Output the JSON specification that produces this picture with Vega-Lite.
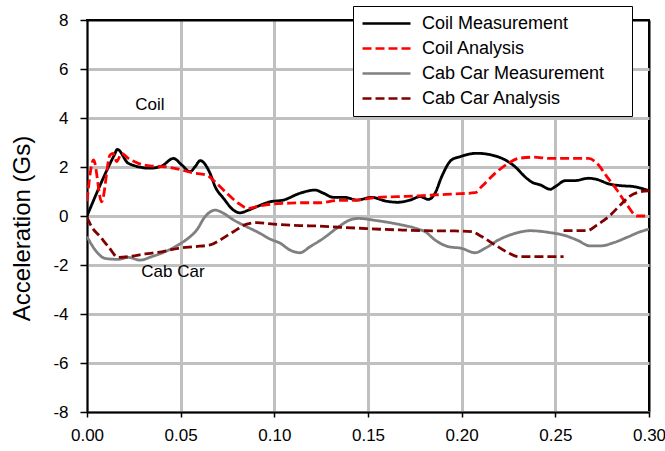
{
  "$schema": "https://vega.github.io/schema/vega-lite/v6.json",
  "width": 562,
  "height": 392,
  "autosize": {"type": "none"},
  "padding": {"left": 87, "top": 20, "right": 16, "bottom": 39},
  "background": "white",
  "config": {
    "font": "Liberation Sans",
    "view": {"stroke": "black", "strokeWidth": 2},
    "axis": {
      "labelFont": "Liberation Sans",
      "titleFont": "Liberation Sans",
      "labelColor": "black",
      "titleColor": "black",
      "domainColor": "black",
      "domainWidth": 2,
      "tickColor": "black",
      "tickWidth": 1.5,
      "labelFontSize": 17,
      "titleFontWeight": "normal"
    },
    "legend": {"labelFont": "Liberation Sans"}
  },
  "datasets": {
    "curves": [
      {"s": "Coil Measurement", "g": 1, "t": 0.0, "v": 0.0},
      {"s": "Coil Measurement", "g": 1, "t": 0.0146, "v": 2.49},
      {"s": "Coil Measurement", "g": 1, "t": 0.0162, "v": 2.72},
      {"s": "Coil Measurement", "g": 1, "t": 0.0221, "v": 2.15},
      {"s": "Coil Measurement", "g": 1, "t": 0.0336, "v": 1.95},
      {"s": "Coil Measurement", "g": 1, "t": 0.0399, "v": 2.04},
      {"s": "Coil Measurement", "g": 1, "t": 0.0461, "v": 2.35},
      {"s": "Coil Measurement", "g": 1, "t": 0.0506, "v": 2.08},
      {"s": "Coil Measurement", "g": 1, "t": 0.055, "v": 1.81},
      {"s": "Coil Measurement", "g": 1, "t": 0.0577, "v": 2.01},
      {"s": "Coil Measurement", "g": 1, "t": 0.0604, "v": 2.26},
      {"s": "Coil Measurement", "g": 1, "t": 0.0657, "v": 1.74},
      {"s": "Coil Measurement", "g": 1, "t": 0.0684, "v": 1.2},
      {"s": "Coil Measurement", "g": 1, "t": 0.0729, "v": 0.72},
      {"s": "Coil Measurement", "g": 1, "t": 0.0782, "v": 0.24},
      {"s": "Coil Measurement", "g": 1, "t": 0.0817, "v": 0.13},
      {"s": "Coil Measurement", "g": 1, "t": 0.0862, "v": 0.24},
      {"s": "Coil Measurement", "g": 1, "t": 0.0906, "v": 0.38},
      {"s": "Coil Measurement", "g": 1, "t": 0.0977, "v": 0.58},
      {"s": "Coil Measurement", "g": 1, "t": 0.1048, "v": 0.65},
      {"s": "Coil Measurement", "g": 1, "t": 0.1137, "v": 0.93},
      {"s": "Coil Measurement", "g": 1, "t": 0.1217, "v": 1.06},
      {"s": "Coil Measurement", "g": 1, "t": 0.1262, "v": 0.93},
      {"s": "Coil Measurement", "g": 1, "t": 0.1316, "v": 0.76},
      {"s": "Coil Measurement", "g": 1, "t": 0.1378, "v": 0.76},
      {"s": "Coil Measurement", "g": 1, "t": 0.1441, "v": 0.65},
      {"s": "Coil Measurement", "g": 1, "t": 0.1521, "v": 0.76},
      {"s": "Coil Measurement", "g": 1, "t": 0.1594, "v": 0.61},
      {"s": "Coil Measurement", "g": 1, "t": 0.1657, "v": 0.56},
      {"s": "Coil Measurement", "g": 1, "t": 0.1725, "v": 0.65},
      {"s": "Coil Measurement", "g": 1, "t": 0.1778, "v": 0.79},
      {"s": "Coil Measurement", "g": 1, "t": 0.1822, "v": 0.68},
      {"s": "Coil Measurement", "g": 1, "t": 0.1858, "v": 0.93},
      {"s": "Coil Measurement", "g": 1, "t": 0.1893, "v": 1.6},
      {"s": "Coil Measurement", "g": 1, "t": 0.1946, "v": 2.29},
      {"s": "Coil Measurement", "g": 1, "t": 0.1991, "v": 2.42},
      {"s": "Coil Measurement", "g": 1, "t": 0.208, "v": 2.56},
      {"s": "Coil Measurement", "g": 1, "t": 0.216, "v": 2.49},
      {"s": "Coil Measurement", "g": 1, "t": 0.2232, "v": 2.29},
      {"s": "Coil Measurement", "g": 1, "t": 0.2285, "v": 2.01},
      {"s": "Coil Measurement", "g": 1, "t": 0.2338, "v": 1.6},
      {"s": "Coil Measurement", "g": 1, "t": 0.2375, "v": 1.38},
      {"s": "Coil Measurement", "g": 1, "t": 0.242, "v": 1.27},
      {"s": "Coil Measurement", "g": 1, "t": 0.2473, "v": 1.09},
      {"s": "Coil Measurement", "g": 1, "t": 0.25, "v": 1.2},
      {"s": "Coil Measurement", "g": 1, "t": 0.2553, "v": 1.44},
      {"s": "Coil Measurement", "g": 1, "t": 0.2598, "v": 1.44},
      {"s": "Coil Measurement", "g": 1, "t": 0.2678, "v": 1.54},
      {"s": "Coil Measurement", "g": 1, "t": 0.2731, "v": 1.47},
      {"s": "Coil Measurement", "g": 1, "t": 0.2785, "v": 1.31},
      {"s": "Coil Measurement", "g": 1, "t": 0.2847, "v": 1.24},
      {"s": "Coil Measurement", "g": 1, "t": 0.2918, "v": 1.2},
      {"s": "Coil Measurement", "g": 1, "t": 0.3, "v": 1.03},

      {"s": "Coil Analysis", "g": 1, "t": 0.0, "v": 0.6},
      {"s": "Coil Analysis", "g": 1, "t": 0.0035, "v": 2.29},
      {"s": "Coil Analysis", "g": 1, "t": 0.0078, "v": 0.58},
      {"s": "Coil Analysis", "g": 1, "t": 0.0123, "v": 2.49},
      {"s": "Coil Analysis", "g": 1, "t": 0.014, "v": 2.56},
      {"s": "Coil Analysis", "g": 1, "t": 0.0158, "v": 2.22},
      {"s": "Coil Analysis", "g": 1, "t": 0.0185, "v": 2.56},
      {"s": "Coil Analysis", "g": 1, "t": 0.0221, "v": 2.35},
      {"s": "Coil Analysis", "g": 1, "t": 0.0274, "v": 2.15},
      {"s": "Coil Analysis", "g": 1, "t": 0.0345, "v": 2.04},
      {"s": "Coil Analysis", "g": 1, "t": 0.0416, "v": 2.01},
      {"s": "Coil Analysis", "g": 1, "t": 0.0506, "v": 1.88},
      {"s": "Coil Analysis", "g": 1, "t": 0.0559, "v": 1.77},
      {"s": "Coil Analysis", "g": 1, "t": 0.0639, "v": 1.67},
      {"s": "Coil Analysis", "g": 1, "t": 0.0692, "v": 1.33},
      {"s": "Coil Analysis", "g": 1, "t": 0.0746, "v": 0.93},
      {"s": "Coil Analysis", "g": 1, "t": 0.0808, "v": 0.52},
      {"s": "Coil Analysis", "g": 1, "t": 0.0862, "v": 0.31},
      {"s": "Coil Analysis", "g": 1, "t": 0.0906, "v": 0.38},
      {"s": "Coil Analysis", "g": 1, "t": 0.0977, "v": 0.48},
      {"s": "Coil Analysis", "g": 1, "t": 0.1066, "v": 0.52},
      {"s": "Coil Analysis", "g": 1, "t": 0.1137, "v": 0.54},
      {"s": "Coil Analysis", "g": 1, "t": 0.1244, "v": 0.54},
      {"s": "Coil Analysis", "g": 1, "t": 0.1333, "v": 0.63},
      {"s": "Coil Analysis", "g": 1, "t": 0.1441, "v": 0.65},
      {"s": "Coil Analysis", "g": 1, "t": 0.1548, "v": 0.76},
      {"s": "Coil Analysis", "g": 1, "t": 0.1657, "v": 0.79},
      {"s": "Coil Analysis", "g": 1, "t": 0.177, "v": 0.82},
      {"s": "Coil Analysis", "g": 1, "t": 0.1858, "v": 0.86},
      {"s": "Coil Analysis", "g": 1, "t": 0.1964, "v": 0.9},
      {"s": "Coil Analysis", "g": 1, "t": 0.2071, "v": 0.95},
      {"s": "Coil Analysis", "g": 1, "t": 0.2107, "v": 1.2},
      {"s": "Coil Analysis", "g": 1, "t": 0.2178, "v": 1.74},
      {"s": "Coil Analysis", "g": 1, "t": 0.2249, "v": 2.15},
      {"s": "Coil Analysis", "g": 1, "t": 0.2303, "v": 2.35},
      {"s": "Coil Analysis", "g": 1, "t": 0.2383, "v": 2.4},
      {"s": "Coil Analysis", "g": 1, "t": 0.2473, "v": 2.35},
      {"s": "Coil Analysis", "g": 1, "t": 0.258, "v": 2.35},
      {"s": "Coil Analysis", "g": 1, "t": 0.2678, "v": 2.35},
      {"s": "Coil Analysis", "g": 1, "t": 0.2722, "v": 2.15},
      {"s": "Coil Analysis", "g": 1, "t": 0.2776, "v": 1.6},
      {"s": "Coil Analysis", "g": 1, "t": 0.2829, "v": 1.06},
      {"s": "Coil Analysis", "g": 1, "t": 0.2883, "v": 0.45},
      {"s": "Coil Analysis", "g": 1, "t": 0.2936, "v": 0.0},
      {"s": "Coil Analysis", "g": 1, "t": 0.3, "v": 0.0},

      {"s": "Cab Car Measurement", "g": 1, "t": 0.0, "v": -0.84},
      {"s": "Cab Car Measurement", "g": 1, "t": 0.0044, "v": -1.39},
      {"s": "Cab Car Measurement", "g": 1, "t": 0.0097, "v": -1.73},
      {"s": "Cab Car Measurement", "g": 1, "t": 0.0167, "v": -1.77},
      {"s": "Cab Car Measurement", "g": 1, "t": 0.0221, "v": -1.69},
      {"s": "Cab Car Measurement", "g": 1, "t": 0.0283, "v": -1.8},
      {"s": "Cab Car Measurement", "g": 1, "t": 0.0345, "v": -1.66},
      {"s": "Cab Car Measurement", "g": 1, "t": 0.0416, "v": -1.46},
      {"s": "Cab Car Measurement", "g": 1, "t": 0.0487, "v": -1.18},
      {"s": "Cab Car Measurement", "g": 1, "t": 0.054, "v": -0.91},
      {"s": "Cab Car Measurement", "g": 1, "t": 0.0586, "v": -0.57},
      {"s": "Cab Car Measurement", "g": 1, "t": 0.063, "v": -0.03},
      {"s": "Cab Car Measurement", "g": 1, "t": 0.0684, "v": 0.24},
      {"s": "Cab Car Measurement", "g": 1, "t": 0.0729, "v": 0.11},
      {"s": "Cab Car Measurement", "g": 1, "t": 0.0782, "v": -0.16},
      {"s": "Cab Car Measurement", "g": 1, "t": 0.0853, "v": -0.44},
      {"s": "Cab Car Measurement", "g": 1, "t": 0.0924, "v": -0.71},
      {"s": "Cab Car Measurement", "g": 1, "t": 0.0977, "v": -0.94},
      {"s": "Cab Car Measurement", "g": 1, "t": 0.1031, "v": -1.11},
      {"s": "Cab Car Measurement", "g": 1, "t": 0.1084, "v": -1.39},
      {"s": "Cab Car Measurement", "g": 1, "t": 0.1137, "v": -1.5},
      {"s": "Cab Car Measurement", "g": 1, "t": 0.1191, "v": -1.25},
      {"s": "Cab Car Measurement", "g": 1, "t": 0.1262, "v": -0.91},
      {"s": "Cab Car Measurement", "g": 1, "t": 0.1333, "v": -0.5},
      {"s": "Cab Car Measurement", "g": 1, "t": 0.1404, "v": -0.16},
      {"s": "Cab Car Measurement", "g": 1, "t": 0.1449, "v": -0.1},
      {"s": "Cab Car Measurement", "g": 1, "t": 0.1548, "v": -0.19},
      {"s": "Cab Car Measurement", "g": 1, "t": 0.1657, "v": -0.33},
      {"s": "Cab Car Measurement", "g": 1, "t": 0.177, "v": -0.54},
      {"s": "Cab Car Measurement", "g": 1, "t": 0.1805, "v": -0.64},
      {"s": "Cab Car Measurement", "g": 1, "t": 0.1858, "v": -0.98},
      {"s": "Cab Car Measurement", "g": 1, "t": 0.1929, "v": -1.25},
      {"s": "Cab Car Measurement", "g": 1, "t": 0.2, "v": -1.32},
      {"s": "Cab Car Measurement", "g": 1, "t": 0.2071, "v": -1.5},
      {"s": "Cab Car Measurement", "g": 1, "t": 0.2125, "v": -1.32},
      {"s": "Cab Car Measurement", "g": 1, "t": 0.2196, "v": -0.98},
      {"s": "Cab Car Measurement", "g": 1, "t": 0.2285, "v": -0.71},
      {"s": "Cab Car Measurement", "g": 1, "t": 0.2366, "v": -0.6},
      {"s": "Cab Car Measurement", "g": 1, "t": 0.2473, "v": -0.68},
      {"s": "Cab Car Measurement", "g": 1, "t": 0.2544, "v": -0.78},
      {"s": "Cab Car Measurement", "g": 1, "t": 0.2615, "v": -0.98},
      {"s": "Cab Car Measurement", "g": 1, "t": 0.2686, "v": -1.22},
      {"s": "Cab Car Measurement", "g": 1, "t": 0.274, "v": -1.22},
      {"s": "Cab Car Measurement", "g": 1, "t": 0.2811, "v": -1.09},
      {"s": "Cab Car Measurement", "g": 1, "t": 0.2883, "v": -0.87},
      {"s": "Cab Car Measurement", "g": 1, "t": 0.2954, "v": -0.64},
      {"s": "Cab Car Measurement", "g": 1, "t": 0.3, "v": -0.54},

      {"s": "Cab Car Analysis", "g": 1, "t": 0.0, "v": -0.05},
      {"s": "Cab Car Analysis", "g": 1, "t": 0.0025, "v": -0.44},
      {"s": "Cab Car Analysis", "g": 1, "t": 0.007, "v": -0.84},
      {"s": "Cab Car Analysis", "g": 1, "t": 0.0114, "v": -1.25},
      {"s": "Cab Car Analysis", "g": 1, "t": 0.0167, "v": -1.69},
      {"s": "Cab Car Analysis", "g": 1, "t": 0.0221, "v": -1.66},
      {"s": "Cab Car Analysis", "g": 1, "t": 0.031, "v": -1.55},
      {"s": "Cab Car Analysis", "g": 1, "t": 0.0399, "v": -1.46},
      {"s": "Cab Car Analysis", "g": 1, "t": 0.0487, "v": -1.32},
      {"s": "Cab Car Analysis", "g": 1, "t": 0.0576, "v": -1.25},
      {"s": "Cab Car Analysis", "g": 1, "t": 0.0657, "v": -1.18},
      {"s": "Cab Car Analysis", "g": 1, "t": 0.071, "v": -0.98},
      {"s": "Cab Car Analysis", "g": 1, "t": 0.0782, "v": -0.64},
      {"s": "Cab Car Analysis", "g": 1, "t": 0.0853, "v": -0.33},
      {"s": "Cab Car Analysis", "g": 1, "t": 0.0906, "v": -0.27},
      {"s": "Cab Car Analysis", "g": 1, "t": 0.0995, "v": -0.33},
      {"s": "Cab Car Analysis", "g": 1, "t": 0.1137, "v": -0.39},
      {"s": "Cab Car Analysis", "g": 1, "t": 0.1244, "v": -0.41},
      {"s": "Cab Car Analysis", "g": 1, "t": 0.1351, "v": -0.46},
      {"s": "Cab Car Analysis", "g": 1, "t": 0.1457, "v": -0.5},
      {"s": "Cab Car Analysis", "g": 1, "t": 0.1564, "v": -0.54},
      {"s": "Cab Car Analysis", "g": 1, "t": 0.1671, "v": -0.57},
      {"s": "Cab Car Analysis", "g": 1, "t": 0.1805, "v": -0.6},
      {"s": "Cab Car Analysis", "g": 1, "t": 0.1964, "v": -0.61},
      {"s": "Cab Car Analysis", "g": 1, "t": 0.2053, "v": -0.64},
      {"s": "Cab Car Analysis", "g": 1, "t": 0.2107, "v": -0.84},
      {"s": "Cab Car Analysis", "g": 1, "t": 0.2178, "v": -1.18},
      {"s": "Cab Car Analysis", "g": 1, "t": 0.2249, "v": -1.5},
      {"s": "Cab Car Analysis", "g": 1, "t": 0.2303, "v": -1.66},
      {"s": "Cab Car Analysis", "g": 1, "t": 0.2544, "v": -1.66},
      {"s": "Cab Car Analysis", "g": 2, "t": 0.2544, "v": -0.6},
      {"s": "Cab Car Analysis", "g": 2, "t": 0.2669, "v": -0.6},
      {"s": "Cab Car Analysis", "g": 2, "t": 0.2722, "v": -0.37},
      {"s": "Cab Car Analysis", "g": 2, "t": 0.2794, "v": 0.04},
      {"s": "Cab Car Analysis", "g": 2, "t": 0.2847, "v": 0.45},
      {"s": "Cab Car Analysis", "g": 2, "t": 0.29, "v": 0.82},
      {"s": "Cab Car Analysis", "g": 2, "t": 0.2954, "v": 0.99},
      {"s": "Cab Car Analysis", "g": 2, "t": 0.3, "v": 1.03}
    ],
    "notes": [
      {"label": "Coil", "t": 0.0336, "v": 4.55},
      {"label": "Cab Car", "t": 0.0459, "v": -2.27}
    ]
  },
  "layer": [
    {
      "data": {"name": "curves"},
      "mark": {"type": "line", "interpolate": "monotone", "strokeWidth": 2.8, "clip": true},
      "encoding": {
        "x": {
          "field": "t", "type": "quantitative",
          "scale": {"domain": [0, 0.3], "nice": false, "zero": false},
          "axis": {
            "values": [0, 0.05, 0.1, 0.15, 0.2, 0.25, 0.3],
            "format": ".2f",
            "title": null,
            "grid": true,
            "gridColor": {"condition": {"test": "datum.value >= 0.299", "value": "black"}, "value": "#c0c0c0"},
            "gridWidth": {"condition": {"test": "datum.value >= 0.299", "value": 2}, "value": 3},
            "tickSize": 5,
            "labelPadding": 10,
            "labelFlush": false
          }
        },
        "y": {
          "field": "v", "type": "quantitative",
          "scale": {"domain": [-8, 8], "nice": false},
          "axis": {
            "values": [-8, -6, -4, -2, 0, 2, 4, 6, 8],
            "labelExpr": "replace(datum.label, '\u2212', '-')",
            "title": "Acceleration (Gs)",
            "titleFontSize": 24,
            "titleX": -53,
            "titleY": 208,
            "titleAngle": -90,
            "titleBaseline": "bottom",
            "grid": true,
            "gridColor": {"condition": {"test": "datum.value >= 7.9", "value": "black"}, "value": "#c0c0c0"},
            "gridWidth": {"condition": {"test": "datum.value >= 7.9", "value": 2}, "value": 3},
            "tickSize": 7,
            "labelPadding": 12,
            "labelFlush": false
          }
        },
        "color": {
          "field": "s", "type": "nominal",
          "scale": {
            "domain": ["Coil Measurement", "Coil Analysis", "Cab Car Measurement", "Cab Car Analysis"],
            "range": ["#000000", "#ff0000", "#808080", "#800000"]
          },
          "legend": {
            "title": " ",
            "titleOrient": "right",
            "titlePadding": 20,
            "orient": "none",
            "legendX": 266,
            "legendY": -14,
            "direction": "vertical",
            "fillColor": "white",
            "strokeColor": "black",
            "padding": 8,
            "symbolType": "M-1,0H5",
            "symbolSize": 256,
            "symbolStrokeWidth": 2.5,
            "symbolFillColor": "transparent",
            "labelFontSize": 18,
            "labelColor": "black",
            "labelOffset": 42,
            "rowPadding": 6,
            "labelLimit": 300
          }
        },
        "strokeDash": {
          "field": "s", "type": "nominal",
          "scale": {
            "domain": ["Coil Measurement", "Coil Analysis", "Cab Car Measurement", "Cab Car Analysis"],
            "range": [[1, 0], [9, 4], [1, 0], [9, 4]]
          }
        },
        "detail": {"field": "g", "type": "nominal"}
      }
    },
    {
      "data": {"name": "notes"},
      "mark": {"type": "text", "fontSize": 17, "color": "black", "align": "center", "baseline": "middle"},
      "encoding": {
        "x": {"field": "t", "type": "quantitative"},
        "y": {"field": "v", "type": "quantitative"},
        "text": {"field": "label"}
      }
    }
  ]
}
